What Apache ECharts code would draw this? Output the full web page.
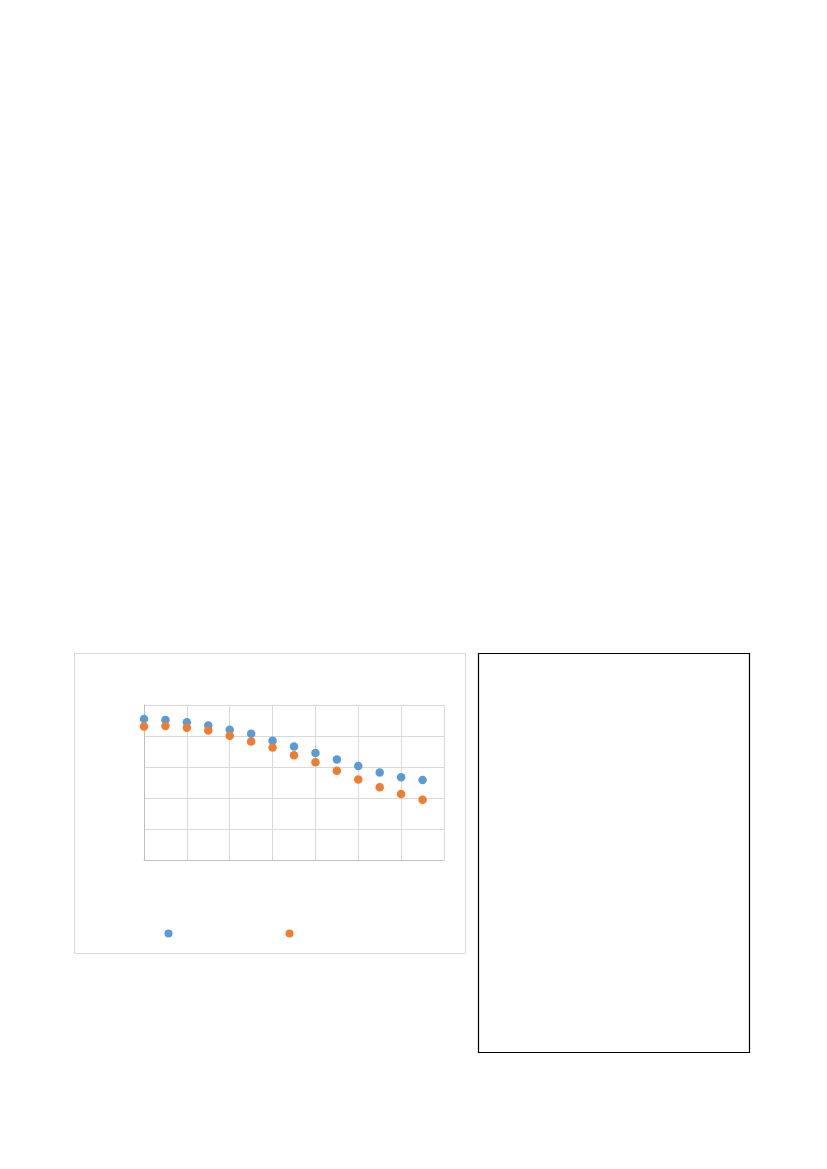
<!DOCTYPE html>
<html>
<head>
<meta charset="utf-8">
<script src="https://cdn.jsdelivr.net/npm/echarts@6/dist/echarts.min.js"></script>
<style>
  html, body { margin: 0; padding: 0; background: #fff; }
  #page { width: 827px; height: 1169px; }
</style>
</head>
<body>
<div id="page"></div>
<script>
// x positions shared by both series
const xValues = [0, 0.5, 1, 1.5, 2, 2.5, 3, 3.5, 4, 4.5, 5, 5.5, 6, 6.5];
const seriesA = [4.55, 4.52, 4.44, 4.34, 4.20, 4.07, 3.85, 3.66, 3.45, 3.24, 3.03, 2.82, 2.67, 2.58];
const seriesB = [4.31, 4.32, 4.27, 4.18, 4.01, 3.82, 3.63, 3.38, 3.15, 2.88, 2.60, 2.35, 2.13, 1.94];
const seriesNames = ['Series1', 'Series2'];

const pairs = (ys) => xValues.map((x, i) => [x, ys[i]]);

const chart = echarts.init(document.getElementById('page'), null, { renderer: 'canvas' });

chart.setOption({
    animation: false,
    backgroundColor: '#fff',
    graphic: [
        {
            type: 'rect',
            shape: { x: 74.5, y: 653.5, width: 391, height: 300 },
            style: { fill: 'none', stroke: '#d9d9d9', lineWidth: 1 }
        },
        {
            type: 'rect',
            shape: { x: 478.5, y: 653.5, width: 271, height: 399 },
            style: { fill: 'none', stroke: '#000', lineWidth: 1.2 }
        }
    ],
    grid: { left: 144, top: 705, width: 300, height: 155, containLabel: false },
    xAxis: {
        type: 'value',
        min: 0,
        max: 7,
        interval: 1,
        axisLine: { show: true, lineStyle: { color: '#bfbfbf' } },
        axisTick: { show: false },
        axisLabel: { show: false },
        splitLine: { show: true, lineStyle: { color: '#d9d9d9' } }
    },
    yAxis: {
        type: 'value',
        min: 0,
        max: 5,
        interval: 1,
        axisLine: { show: true, lineStyle: { color: '#bfbfbf' } },
        axisTick: { show: false },
        axisLabel: { show: false },
        splitLine: { show: true, lineStyle: { color: '#d9d9d9' } }
    },
    legend: [
        {
            data: [seriesNames[0]],
            left: 164.5, top: 929.5,
            padding: 0,
            icon: 'circle', itemWidth: 8, itemHeight: 8,
            formatter: () => '',
            selectedMode: false
        },
        {
            data: [seriesNames[1]],
            left: 285.5, top: 929.5,
            padding: 0,
            icon: 'circle', itemWidth: 8, itemHeight: 8,
            formatter: () => '',
            selectedMode: false
        }
    ],
    series: [
        {
            name: seriesNames[0],
            type: 'scatter',
            data: pairs(seriesA),
            symbolSize: 8.5,
            itemStyle: { color: '#5b9bd5', opacity: 1 }
        },
        {
            name: seriesNames[1],
            type: 'scatter',
            data: pairs(seriesB),
            symbolSize: 8.5,
            itemStyle: { color: '#ed7d31', opacity: 1 }
        }
    ]
});
</script>
</body>
</html>
